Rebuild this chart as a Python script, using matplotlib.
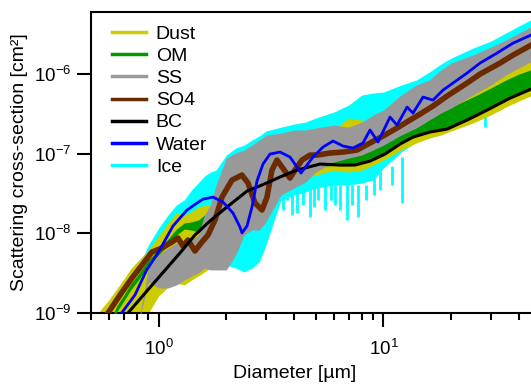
import matplotlib
matplotlib.use('Agg')
import matplotlib.pyplot as plt
from matplotlib.lines import Line2D
from matplotlib.ticker import NullLocator

plt.rcParams['font.family'] = ['Liberation Sans', 'DejaVu Sans']
plt.rcParams['mathtext.default'] = 'regular'
plt.rcParams['axes.unicode_minus'] = False

# diameter grid [um] for the noisy species (band = min/max of the ripples)
diam = [0.5, 0.55, 0.6, 0.65, 0.7, 0.75, 0.8, 0.9, 1.0, 1.1, 1.2, 1.3, 1.4, 1.5,
        1.6, 1.7, 1.8, 2.0, 2.2, 2.4, 2.6, 2.8, 3.0, 3.5, 4.0, 4.5, 5.0, 6.0, 7.0,
        8.0, 9.0, 10, 12, 14, 16, 18, 20, 25, 30, 35, 40, 45, 50]

dust_hi = [6.12e-10, 1.09e-9, 1.456e-9, 2.0e-9, 2.67e-9, 3.57e-9, 4.36e-9, 6.17e-9, 9.25e-9, 1.35e-8,
           1.80e-8, 1.70e-8, 1.855e-8, 2.14e-8, 2.27e-8, 2.27e-8, 2.08e-8, 1.855e-8, 1.96e-8, 2.62e-8,
           3.49e-8, 4.66e-8, 6.22e-8, 8.31e-8, 1.11e-7, 1.28e-7, 1.48e-7, 1.98e-7, 2.80e-7, 2.64e-7,
           2.49e-7, 2.80e-7, 4.07e-7, 5.44e-7, 6.28e-7, 7.91e-7, 9.14e-7, 1.29e-6, 1.63e-6, 1.99e-6,
           2.44e-6, 2.90e-6, 3.35e-6]
dust_lo = [6.12e-10, 6.12e-10, 6.12e-10, 6.12e-10, 6.12e-10, 6.12e-10, 6.12e-10, 1.0e-9, 1.632e-9, 2.12e-9,
           2.38e-9, 2.25e-9, 2.59e-9, 2.91e-9, 3.27e-9, 3.67e-9, 4.36e-9, 8.24e-9, 1.037e-8, 1.165e-8,
           1.47e-8, 1.855e-8, 2.27e-8, 3.29e-8, 4.28e-8, 4.94e-8, 5.39e-8, 6.22e-8, 5.87e-8, 6.22e-8,
           7.19e-8, 8.31e-8, 1.11e-7, 1.36e-7, 1.57e-7, 1.71e-7, 1.925e-7, 2.42e-7, 3.05e-7, 3.84e-7,
           4.57e-7, 5.28e-7, 5.93e-7]

om_hi = [6.12e-10, 6.12e-10, 7.07e-10, 1.224e-9, 1.68e-9, 2.31e-9, 2.91e-9, 4.62e-9, 6.35e-9, 8.48e-9,
         1.13e-8, 1.35e-8, 1.39e-8, 1.47e-8, 1.70e-8, 2.08e-8, 2.62e-8, 3.03e-8, 3.49e-8, 4.04e-8,
         4.41e-8, 4.04e-8, 4.04e-8, 4.41e-8, 4.66e-8, 5.87e-8, 7.62e-8, 9.60e-8, 1.11e-7, 1.21e-7,
         1.40e-7, 1.48e-7, 1.925e-7, 2.28e-7, 2.80e-7, 3.32e-7, 3.84e-7, 5.13e-7, 6.65e-7, 8.38e-7,
         9.97e-7, 1.12e-6, 1.25e-6]
om_lo = [6.12e-10, 6.12e-10, 6.12e-10, 1.03e-9, 1.415e-9, 1.94e-9, 2.45e-9, 3.89e-9, 5.34e-9, 7.13e-9,
         9.52e-9, 1.13e-8, 1.10e-8, 1.037e-8, 1.10e-8, 1.27e-8, 9.52e-9, 4.00e-9, 1.47e-8, 1.96e-8,
         2.27e-8, 2.27e-8, 2.62e-8, 3.29e-8, 4.04e-8, 4.94e-8, 6.59e-8, 7.19e-8, 7.19e-8, 7.62e-8,
         8.31e-8, 9.60e-8, 1.36e-7, 1.663e-7, 1.87e-7, 1.98e-7, 2.15e-7, 2.80e-7, 3.73e-7, 4.71e-7,
         5.60e-7, 6.46e-7, 7.26e-7]

ss_hi = [6.12e-10, 6.12e-10, 6.12e-10, 6.12e-10, 6.12e-10, 6.12e-10, 6.12e-10, 3.67e-9, 5.34e-9, 6.54e-9,
         7.55e-9, 8.24e-9, 8.24e-9, 9.52e-9, 1.70e-8, 2.27e-8, 4.04e-8, 8.80e-8, 1.018e-7, 1.11e-7,
         1.28e-7, 1.48e-7, 1.71e-7, 1.81e-7, 1.98e-7, 1.98e-7, 2.10e-7, 2.28e-7, 2.15e-7, 2.49e-7,
         3.05e-7, 3.52e-7, 5.44e-7, 7.26e-7, 8.38e-7, 1.12e-6, 1.37e-6, 1.73e-6, 2.17e-6, 2.66e-6,
         3.26e-6, 3.88e-6, 4.47e-6]
ss_lo = [6.12e-10, 6.12e-10, 6.12e-10, 6.12e-10, 6.12e-10, 6.12e-10, 6.12e-10, 2.45e-9, 2.06e-9, 2.06e-9,
         2.25e-9, 2.59e-9, 2.91e-9, 3.18e-9, 3.67e-9, 3.47e-9, 3.47e-9, 3.47e-9, 5.34e-9, 9.52e-9,
         1.10e-8, 1.10e-8, 1.39e-8, 3.03e-8, 3.70e-8, 4.40e-8, 5.87e-8, 7.84e-8, 8.80e-8, 9.60e-8,
         1.11e-7, 1.28e-7, 1.71e-7, 2.10e-7, 2.64e-7, 3.23e-7, 3.73e-7, 5.44e-7, 7.26e-7, 9.69e-7,
         1.19e-6, 1.41e-6, 1.63e-6]

ice_hi = [6.12e-10, 8.17e-10, 1.155e-9, 1.543e-9, 1.94e-9, 2.59e-9, 3.27e-9, 7.13e-9, 1.165e-8, 1.70e-8,
          2.27e-8, 2.62e-8, 3.49e-8, 4.28e-8, 5.23e-8, 5.87e-8, 6.22e-8, 9.60e-8, 1.175e-7, 1.28e-7,
          1.48e-7, 1.663e-7, 1.925e-7, 2.15e-7, 2.35e-7, 2.49e-7, 2.80e-7, 3.32e-7, 4.07e-7, 5.44e-7,
          5.76e-7, 5.93e-7, 7.26e-7, 8.38e-7, 1.056e-6, 1.33e-6, 1.58e-6, 2.11e-6, 2.58e-6, 3.26e-6,
          3.99e-6, 4.74e-6, 5.48e-6]
ice_lo = [6.12e-10, 6.12e-10, 7.07e-10, 9.44e-10, 1.26e-9, 1.68e-9, 2.06e-9, 3.47e-9, 5.34e-9, 7.78e-9,
          1.037e-8, 1.165e-8, 1.27e-8, 1.39e-8, 6.17e-9, 5.34e-9, 4.62e-9, 4.00e-9, 3.67e-9, 3.27e-9,
          3.67e-9, 4.36e-9, 7.13e-9, 2.62e-8, 3.03e-8, 3.29e-8, 3.70e-8, 4.04e-8, 4.04e-8, 4.28e-8,
          4.66e-8, 6.59e-8, 1.048e-7, 1.40e-7, 1.57e-7, 1.87e-7, 1.98e-7, 2.49e-7, 3.32e-7, 4.19e-7,
          4.85e-7, 5.60e-7, 6.28e-7]

# deepest downward ripples of the ice curve
ice_spike_d = [3.57, 3.72, 3.92, 4.13, 4.39, 4.71, 4.91, 5.12, 5.50, 5.85, 6.09, 6.41, 6.89, 7.25,
               7.71, 8.37, 9.08, 9.66, 10.92, 12.1, 28.3]
ice_spike_lo = [1.96e-8, 2.62e-8, 1.70e-8, 1.80e-8, 2.27e-8, 1.60e-8, 2.14e-8, 2.62e-8, 1.96e-8,
                2.62e-8, 2.27e-8, 1.96e-8, 1.47e-8, 2.27e-8, 1.60e-8, 2.62e-8, 3.03e-8, 3.49e-8,
                4.04e-8, 2.40e-8, 2.15e-7]
ice_spike_hi = [4e-8, 4e-8, 4e-8, 4e-8, 4e-8, 4e-8, 4e-8, 4e-8, 4e-8, 4e-8, 4e-8, 4e-8, 4e-8, 4e-8,
                4e-8, 4e-8, 5e-8, 6e-8, 7e-8, 9e-8, 3.0e-7]

# smoother species drawn as lines
so4_d = [0.595, 0.687, 0.761, 0.843, 0.934, 1.034, 1.146, 1.219, 1.282, 1.350, 1.450, 1.558, 1.657,
         1.781, 1.913, 2.120, 2.348, 2.497, 2.683, 2.883, 3.034, 3.193, 3.361, 3.538, 3.840, 4.043,
         4.343, 4.713, 5.064, 5.786, 6.61, 7.63, 8.72, 9.96, 11.50, 13.13, 14.56, 16.62, 19.19,
         23.55, 26.91, 33.03, 37.75, 45.39, 50.0]
so4 = [1.0e-9, 1.83e-9, 2.75e-9, 4.00e-9, 5.83e-9, 6.54e-9, 7.78e-9, 8.73e-9, 6.93e-9, 8.24e-9,
       6.00e-9, 7.78e-9, 9.52e-9, 1.47e-8, 2.85e-8, 4.66e-8, 5.39e-8, 4.28e-8, 2.40e-8, 1.96e-8,
       2.85e-8, 6.22e-8, 8.31e-8, 6.79e-8, 4.94e-8, 6.22e-8, 8.31e-8, 9.6e-8, 9.6e-8, 1.018e-7,
       1.047e-7, 1.11e-7, 1.36e-7, 1.663e-7, 2.10e-7, 2.64e-7, 3.14e-7, 3.96e-7, 5.28e-7, 7.69e-7,
       9.97e-7, 1.37e-6, 1.727e-6, 2.30e-6, 2.66e-6]

bc_d = [0.730, 0.826, 0.943, 1.078, 1.244, 1.450, 1.692, 2.014, 2.472, 2.883, 3.467, 4.126, 5.222,
        6.41, 7.47, 8.72, 10.16, 11.86, 13.54, 16.12, 19.19, 23.55, 28.91, 36.6, 45.39, 50.0]
bc = [1.0e-9, 1.50e-9, 2.31e-9, 3.56e-9, 5.66e-9, 9.52e-9, 1.43e-8, 2.14e-8, 3.39e-8, 4.04e-8,
      5.09e-8, 6.22e-8, 7.40e-8, 7.19e-8, 7.19e-8, 8.07e-8, 9.89e-8, 1.32e-7, 1.615e-7, 1.87e-7,
      2.035e-7, 2.64e-7, 3.52e-7, 4.98e-7, 6.46e-7, 7.2e-7]

water_d = [0.684, 0.784, 0.884, 0.993, 1.158, 1.336, 1.48, 1.575, 1.745, 1.933, 2.141, 2.30, 2.348,
           2.472, 2.602, 2.738, 2.912, 3.129, 3.467, 3.84, 4.126, 4.299, 4.571, 4.861, 5.385, 5.967,
           6.61, 7.32, 8.11, 8.72, 9.46, 10.7, 11.5, 12.74, 13.54, 15.01, 16.62, 18.42, 20.4, 23.55,
           26.91, 32.03, 37.75, 45.39, 50.0]
water = [1.0e-9, 1.68e-9, 3.46e-9, 5.66e-9, 1.235e-8, 1.96e-8, 2.40e-8, 2.69e-8, 2.85e-8, 2.47e-8,
         1.80e-8, 1.20e-8, 1.01e-8, 1.235e-8, 2.14e-8, 4.53e-8, 7.40e-8, 9.89e-8, 1.047e-7, 9.06e-8,
         6.79e-8, 5.71e-8, 7.19e-8, 9.06e-8, 1.21e-7, 1.44e-7, 1.246e-7, 1.175e-7, 1.36e-7, 1.98e-7,
         1.40e-7, 2.88e-7, 2.28e-7, 3.84e-7, 3.23e-7, 5.13e-7, 4.70e-7, 6.28e-7, 7.69e-7, 1.026e-6,
         1.37e-6, 1.83e-6, 2.44e-6, 3.08e-6, 3.4e-6]

names = ['Dust', 'OM', 'SS', 'SO4', 'BC', 'Water', 'Ice']
colors = ['#cccc00', '#009900', '#999999', '#6b2a00', '#000000', '#0000ff', '#00ffff']

fig = plt.figure(figsize=(5.31, 3.84), dpi=100)
ax = fig.add_axes([0.1714, 0.1849, 0.8465, 0.7839])

# ice underneath everything, then the other bands, then the lines
ax.fill_between(diam, ice_lo, ice_hi, color=colors[6], lw=0, zorder=1)
ax.vlines(ice_spike_d, ice_spike_lo, ice_spike_hi, color=colors[6], lw=2, zorder=1)
ax.fill_between(diam, dust_lo, dust_hi, color=colors[0], lw=0, zorder=2)
ax.fill_between(diam, om_lo, om_hi, color=colors[1], lw=0, zorder=3)
ax.fill_between(diam, ss_lo, ss_hi, color=colors[2], lw=0, zorder=4)
ax.plot(so4_d, so4, color=colors[3], lw=4, zorder=5)
ax.plot(bc_d, bc, color=colors[4], lw=2.2, zorder=6)
ax.plot(water_d, water, color=colors[5], lw=2, zorder=7)

ax.set_xscale('log')
ax.set_yscale('log')
ax.set_xlim(0.5, 50)
ax.set_ylim(1e-9, 6e-6)
ax.yaxis.set_minor_locator(NullLocator())

for s in ax.spines.values():
    s.set_linewidth(1.5)
ax.spines['right'].set_visible(False)
ax.tick_params(which='major', length=10, width=1.5, labelsize=13.5)
ax.tick_params(axis='x', which='major', pad=9)
ax.tick_params(axis='y', which='major', pad=4)
ax.tick_params(which='minor', length=5, width=1.5)

ax.set_xlabel('Diameter [µm]', fontsize=14)
ax.set_ylabel('Scattering cross-section [cm²]', fontsize=14)
ax.xaxis.set_label_coords(0.4538, -0.172)
ax.yaxis.set_label_coords(-0.140, 0.5)

handles = [Line2D([], [], color=c, lw=2.5) for c in colors]
ax.legend(handles, names, loc='upper left', bbox_to_anchor=(0.0467, 0.955),
          frameon=False, fontsize=14, handlelength=1.75, handletextpad=0.5,
          labelspacing=0.23, borderpad=0, borderaxespad=0)

fig.savefig('out.png', dpi=100)
